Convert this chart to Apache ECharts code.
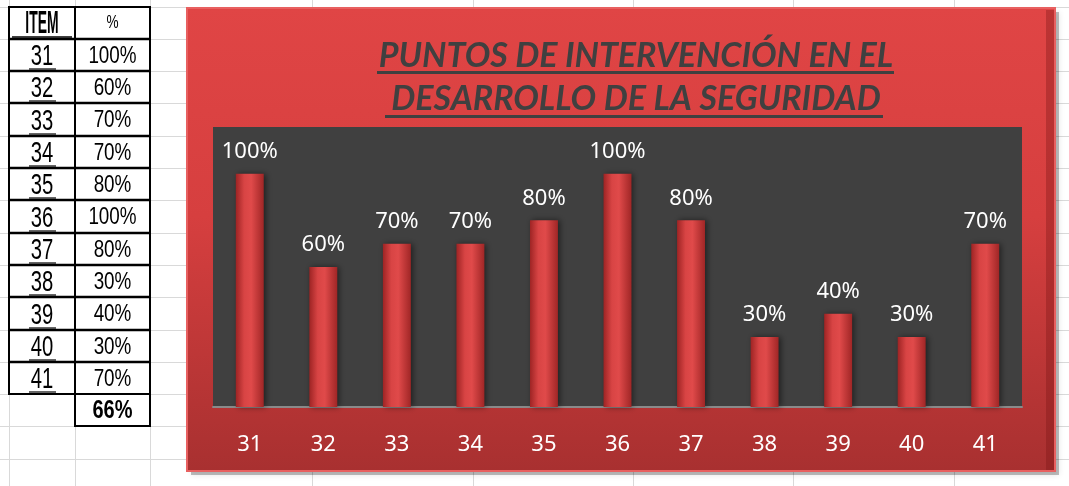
<!DOCTYPE html>
<html>
<head>
<meta charset="utf-8">
<script src="https://cdn.jsdelivr.net/npm/echarts@6/dist/echarts.min.js"></script>
<style>
  html, body { margin: 0; padding: 0; background: #fff; }
  #main { width: 1069px; height: 486px; }
</style>
</head>
<body>
<div id="main"></div>
<script>
// datos
var items = ["31", "32", "33", "34", "35", "36", "37", "38", "39", "40", "41"];
var valores = [100, 60, 70, 70, 80, 100, 80, 30, 40, 30, 70];
var promedio = "66%";
var titulo = ["PUNTOS DE INTERVENCIÓN EN EL", "DESARROLLO DE LA SEGURIDAD"];

var chart = echarts.init(document.getElementById("main"));

// hoja de excel de fondo + tabla
var g = [];
var rowH = 32.3, top0 = 6.5;
// lineas grises de la hoja
for (var r = 0; r < 15; r++) {
    var y = Math.round(top0 + r * rowH) + 0.5;
    g.push({type: "line", shape: {x1: 0, y1: y, x2: 1069, y2: y}, style: {stroke: "#d9d9d9", lineWidth: 1}, z: 0});
}
[9, 75, 150, 312, 473, 633, 793, 954].forEach(function (x) {
    g.push({type: "line", shape: {x1: x + 0.5, y1: 0, x2: x + 0.5, y2: 486}, style: {stroke: "#d9d9d9", lineWidth: 1}, z: 0});
});

// tabla ITEM / %
var tx0 = 9, tx1 = 75, tx2 = 150;
function rowY(i) { return Math.round(top0 + i * rowH); }
// texto angosto (tipo Arial Narrow)
function celda(txt, x, y, size, bold, sx, sy) {
    g.push({type: "text", x: x, y: y, scaleX: sx || 0.78, scaleY: sy || 1, z: 3,
        style: {text: txt, font: (bold ? "bold " : "") + size + "px 'Liberation Sans', sans-serif",
            fill: "#000", align: "center", verticalAlign: "middle"}});
}
// bordes
g.push({type: "rect", shape: {x: tx0, y: rowY(0), width: tx2 - tx0, height: rowY(12) - rowY(0)}, style: {fill: "#fff", stroke: "#000", lineWidth: 2}, z: 1});
g.push({type: "rect", shape: {x: tx1, y: rowY(12), width: tx2 - tx1, height: rowY(13) - rowY(12)}, style: {fill: "#fff", stroke: "#000", lineWidth: 2}, z: 1});
g.push({type: "line", shape: {x1: tx1, y1: rowY(0), x2: tx1, y2: rowY(12)}, style: {stroke: "#000", lineWidth: 2}, z: 2});
for (var i = 1; i < 12; i++) {
    g.push({type: "line", shape: {x1: tx0, y1: rowY(i), x2: tx2, y2: rowY(i)}, style: {stroke: "#000", lineWidth: 2.5}, z: 2});
}
celda("ITEM", (tx0 + tx1) / 2, (rowY(0) + rowY(1)) / 2 + 1, 24, true, 0.58, 1.3);
g.push({type: "line", shape: {x1: 12, y1: rowY(1) - 2, x2: 72, y2: rowY(1) - 2}, style: {stroke: "#000", lineWidth: 1.5}, z: 3});
celda("%", (tx1 + tx2) / 2, (rowY(0) + rowY(1)) / 2, 17, false, 0.8, 1.1);
items.forEach(function (it, k) {
    var yc = (rowY(k + 1) + rowY(k + 2)) / 2 + 2;
    celda(it, (tx0 + tx1) / 2, yc, 27, false, 0.75, 1.12);
    g.push({type: "line", shape: {x1: 29, y1: rowY(k + 2) - 2, x2: 56, y2: rowY(k + 2) - 2}, style: {stroke: "#000", lineWidth: 1.2}, z: 3});
    celda(valores[k] + "%", (tx1 + tx2) / 2, yc - 1, 23, false, 0.82, 1.05);
});
celda(promedio, (tx1 + tx2) / 2, (rowY(12) + rowY(13)) / 2 + 1, 25, true, 0.8, 1.05);

// area del grafico (marco rojo)
g.push({type: "rect", shape: {x: 191, y: 12, width: 868, height: 463}, z: 4,
    style: {fill: "rgba(0,0,0,0.25)", shadowBlur: 6, shadowColor: "rgba(0,0,0,0.4)"}});
g.push({type: "rect", shape: {x: 187, y: 8, width: 868, height: 463}, z: 5,
    style: {fill: new echarts.graphic.LinearGradient(0, 0, 0, 1, [
        {offset: 0, color: "#e04545"}, {offset: 0.45, color: "#d63f3f"}, {offset: 1, color: "#a83030"}]),
        stroke: "#e86060", lineWidth: 2}});
g.push({type: "rect", shape: {x: 1046, y: 10, width: 8, height: 460}, z: 6,
    style: {fill: "rgba(120,20,20,0.35)"}});
// titulo subrayado
titulo.forEach(function (t, k) {
    var yc = 56 + k * 43;
    g.push({type: "text", x: 636, y: yc, z: 8,
        style: {text: t, font: "italic bold 34px Lato, sans-serif", fill: "#404040", align: "center", verticalAlign: "middle"}});
});
g.push({type: "rect", shape: {x: 377, y: 71, width: 517, height: 3}, z: 8, style: {fill: "#404040"}});
g.push({type: "rect", shape: {x: 385, y: 115, width: 498, height: 3}, z: 8, style: {fill: "#404040"}});

var barColor = new echarts.graphic.LinearGradient(0, 0, 1, 0, [
    {offset: 0, color: "#9e2424"}, {offset: 0.3, color: "#d84444"},
    {offset: 0.55, color: "#e04a4a"}, {offset: 1, color: "#a02626"}]);

var option = {
    animation: false,
    graphic: {elements: g},
    grid: {left: 213, right: 47, top: 127, bottom: 79, show: true,
        backgroundColor: "#404040", borderWidth: 0, z: 10},
    xAxis: {
        type: "category",
        data: items,
        z: 12,
        axisLine: {lineStyle: {color: "#8a8a8a", width: 2}},
        axisTick: {show: false},
        axisLabel: {color: "#fff", fontSize: 22, fontFamily: "Noto Sans", margin: 27}
    },
    yAxis: {type: "value", min: 0, max: 120, show: false, splitLine: {show: false}},
    series: [{
        type: "bar",
        z: 12,
        data: valores,
        barWidth: "38%",
        itemStyle: {color: barColor, shadowBlur: 6, shadowColor: "rgba(0,0,0,0.5)", shadowOffsetX: 2},
        label: {
            show: true,
            position: "top",
            distance: 11,
            formatter: "{c}%",
            color: "#fff",
            fontSize: 22,
            fontFamily: "Noto Sans"
        }
    }]
};
chart.setOption(option);
</script>
</body>
</html>
